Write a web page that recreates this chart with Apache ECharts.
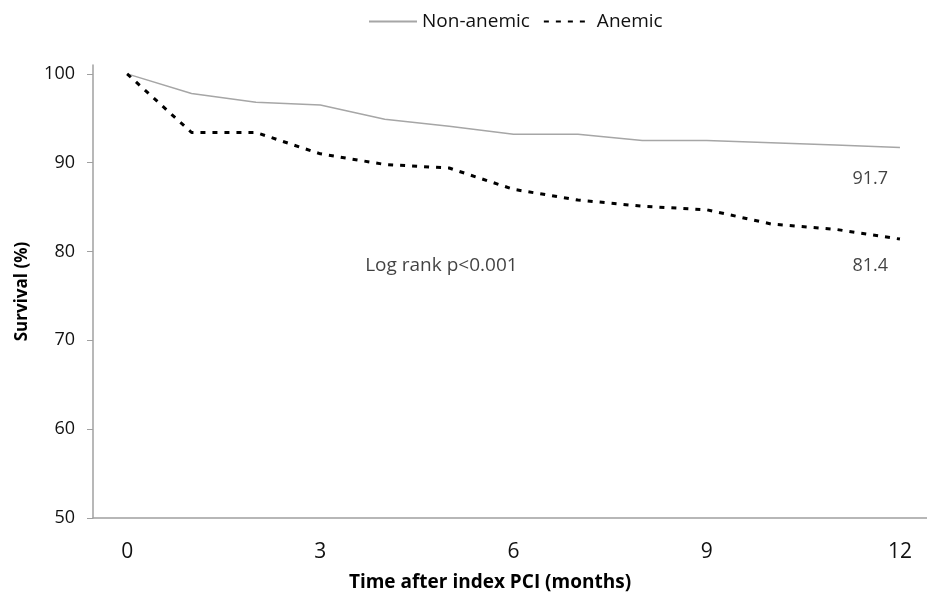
<!DOCTYPE html>
<html>
<head>
<meta charset="utf-8">
<script src="https://cdn.jsdelivr.net/npm/echarts@6/dist/echarts.min.js"></script>
<style>
    html, body { margin: 0; padding: 0; background: #fff; }
    #chart { width: 927px; height: 597px; }
</style>
</head>
<body>
<div id="chart"></div>
<script>
    // months after index PCI
    const months = [0, 1, 2, 3, 4, 5, 6, 7, 8, 9, 10, 11, 12];
    const nonAnemic = [100, 97.8, 96.8, 96.5, 94.9, 94.1, 93.2, 93.2, 92.5, 92.5, 92.25, 92.0, 91.7];
    const anemic = [100, 93.4, 93.4, 91.0, 89.8, 89.4, 87.0, 85.8, 85.1, 84.7, 83.1, 82.5, 81.4];
    const xTicks = [0, 3, 6, 9, 12];
    const yTicks = [50, 60, 70, 80, 90, 100];
    // text notes placed in data coordinates
    const notes = [
        {name: '91.7', value: [11.54, 88.2]},
        {name: '81.4', value: [11.54, 78.4]},
        {name: 'Log rank p<0.001', value: [4.88, 78.4], label: {fontSize: 19}}
    ];

    const font = '"Open Sans", "Liberation Sans", sans-serif';
    const toPairs = (xs, ys) => xs.map((x, i) => [x, ys[i]]);

    let chart = echarts.init(document.getElementById('chart'));
    chart.setOption({
        animation: false,
        textStyle: {fontFamily: font},
        legend: {
            data: ['Non-anemic', 'Anemic'],
            left: 363,
            top: 7,
            itemWidth: 48,
            itemHeight: 14,
            itemGap: 13,
            itemStyle: {opacity: 0},
            textStyle: {fontSize: 19, color: '#111', fontFamily: font}
        },
        grid: {left: 93, right: 0, top: 65, bottom: 79},
        xAxis: {
            type: 'value',
            min: -0.53,
            max: 12.42,
            splitLine: {show: false},
            axisLine: {lineStyle: {color: '#a0a0a0', width: 1.5}},
            axisTick: {show: false},
            axisLabel: {
                customValues: xTicks,
                margin: 24,
                fontSize: 21,
                color: '#111',
                fontFamily: font
            }
        },
        yAxis: {
            type: 'value',
            min: 50,
            max: 101,
            name: 'Survival (%)',
            nameLocation: 'middle',
            nameGap: 62,
            nameTextStyle: {fontSize: 17, fontWeight: 'bold', color: '#000', fontFamily: font},
            splitLine: {show: false},
            axisLine: {show: true, onZero: false, lineStyle: {color: '#a0a0a0', width: 1.5}},
            axisTick: {show: true, customValues: yTicks, length: 6, lineStyle: {color: '#a0a0a0'}},
            axisLabel: {
                customValues: yTicks,
                margin: 18,
                fontSize: 18,
                color: '#111',
                fontFamily: font
            }
        },
        graphic: [{
            type: 'text',
            x: 490,
            y: 573,
            style: {
                text: 'Time after index PCI (months)',
                align: 'center',
                fontSize: 19,
                fontWeight: 'bold',
                fontFamily: font,
                fill: '#000'
            }
        }],
        series: [
            {
                name: 'Non-anemic',
                type: 'line',
                data: toPairs(months, nonAnemic),
                showSymbol: false,
                symbol: 'none',
                itemStyle: {color: '#a6a6a6'},
                lineStyle: {color: '#a6a6a6', width: 1.5}
            },
            {
                name: 'Anemic',
                type: 'line',
                data: toPairs(months, anemic),
                showSymbol: false,
                symbol: 'none',
                itemStyle: {color: '#000'},
                lineStyle: {color: '#000', width: 3, type: [5, 7]}
            },
            {
                name: 'notes',
                type: 'scatter',
                data: notes,
                symbolSize: 0,
                silent: true,
                label: {
                    show: true,
                    position: 'inside',
                    formatter: p => p.name,
                    fontSize: 18,
                    color: '#111',
                    fontFamily: font
                }
            }
        ]
    });
</script>
</body>
</html>
